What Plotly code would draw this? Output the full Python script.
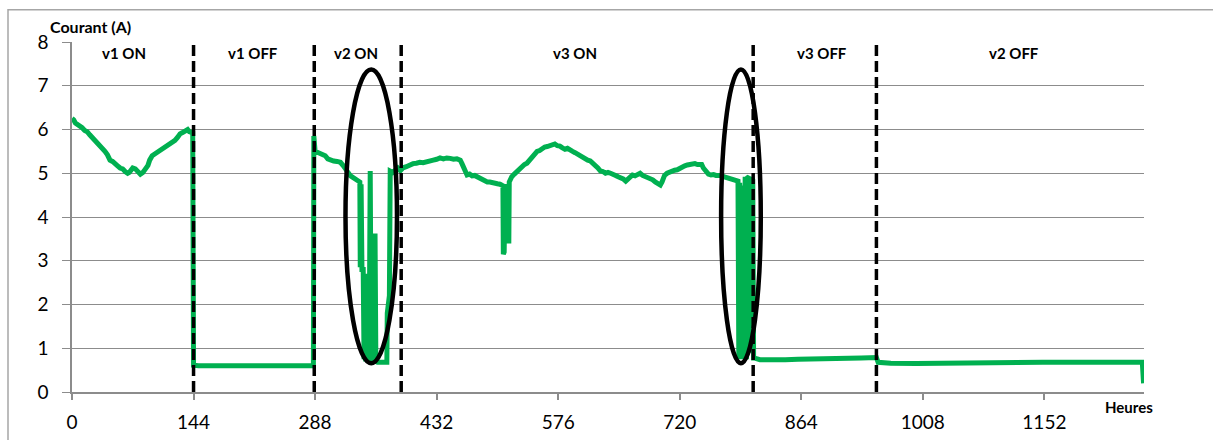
import plotly.graph_objects as go

# ---------------- data (hours, current in A) ----------------
hours_v1_on = [0, 2, 4, 6, 9, 12, 15, 18, 21, 24, 27, 30, 33, 36, 39, 42, 45, 48, 51, 54, 57, 60, 63, 66,
               68, 70, 72, 75, 78, 81, 84, 87, 90, 92, 95, 98, 101, 104, 107, 110, 113, 116, 119, 122,
               125, 128, 131, 134, 137, 139, 141, 143]
current_v1_on = [6.25, 6.22, 6.15, 6.13, 6.08, 6.04, 5.98, 5.95, 5.88, 5.82, 5.76, 5.70, 5.63, 5.60, 5.50,
                 5.42, 5.30, 5.27, 5.20, 5.17, 5.12, 5.10, 5.04, 5.00, 5.02, 5.10, 5.12, 5.10, 5.04, 4.98,
                 5.02, 5.08, 5.18, 5.30, 5.40, 5.44, 5.48, 5.53, 5.55, 5.60, 5.63, 5.68, 5.70, 5.75,
                 5.82, 5.90, 5.93, 5.96, 6.00, 5.95, 5.93, 5.92]

hours_v1_off = [144, 150, 170, 190, 210, 230, 250, 270, 286]
current_v1_off = [0.61, 0.60, 0.60, 0.61, 0.60, 0.60, 0.61, 0.60, 0.60]

hours_v2_on = [286.5, 288, 292, 296, 300, 303, 306, 310, 314, 318, 321, 324, 327, 330, 333, 336, 339, 341,
               341.5, 342.5, 343.5, 345, 346, 347, 348, 349, 350, 351, 352, 353.3, 354.5, 356, 357, 358,
               359, 360, 362, 373, 373.5, 376, 377, 380, 383, 386, 389]
current_v2_on = [5.85, 5.50, 5.47, 5.44, 5.40, 5.33, 5.30, 5.28, 5.27, 5.25, 5.18, 5.12, 5.02, 4.94, 4.90,
                 4.86, 4.82, 4.80, 2.85, 4.75, 2.80, 2.80, 0.75, 2.70, 0.70, 2.60, 0.70, 2.00, 0.70, 5.05,
                 0.70, 3.00, 0.70, 3.62, 3.62, 0.70, 0.68, 0.68, 1.80, 2.20, 5.05, 5.02, 5.08, 5.12, 5.06]

hours_v3_on = [392, 396, 400, 404, 408, 412, 416, 420, 424, 428, 432, 436, 440, 444, 448, 452, 456, 460,
               462, 464, 466, 468, 471, 474, 477, 480, 483, 486, 489, 492, 495, 498, 501, 504, 507, 509,
               510.5, 511, 512, 513, 516, 516.5, 517.5, 518, 519, 521, 524, 527, 530, 533, 536, 539, 542,
               545, 548, 551, 554, 557, 560, 563, 566, 569, 572, 575, 578, 581, 584, 587, 590, 593, 596,
               599, 602, 605, 608, 611, 614, 617, 620, 623, 626, 629, 632, 635, 638, 641, 644, 647, 650,
               653, 656, 658, 661, 664, 667, 670, 673, 676, 679, 682, 685, 688, 691, 694, 697, 699, 702,
               705, 708, 711, 714, 717, 720, 723, 726, 729, 732, 735, 738, 741, 744, 746, 748, 751, 754,
               757, 760, 763, 766, 769, 772, 775, 778, 781, 784, 787, 789,
               790, 791, 792, 793, 794, 795, 796, 797.5, 799, 800.5, 802, 803.5, 805, 806.5, 807.5]
current_v3_on = [5.12, 5.15, 5.20, 5.22, 5.23, 5.25, 5.24, 5.27, 5.28, 5.30, 5.32, 5.35, 5.33, 5.35, 5.34,
                 5.32, 5.33, 5.30, 5.22, 5.12, 5.00, 4.96, 4.98, 4.94, 4.95, 4.92, 4.88, 4.86, 4.83, 4.80,
                 4.80, 4.78, 4.79, 4.76, 4.75, 4.73,
                 4.75, 3.15, 3.20, 4.70, 4.70, 3.45, 3.45, 4.80, 4.85, 4.92, 4.98, 5.04, 5.10, 5.14, 5.20,
                 5.23, 5.30, 5.38, 5.45, 5.50, 5.52, 5.57, 5.60, 5.61, 5.63, 5.65, 5.67, 5.63, 5.62, 5.58,
                 5.55, 5.57, 5.52, 5.50, 5.47, 5.43, 5.41, 5.38, 5.33, 5.30, 5.28, 5.23, 5.20, 5.12, 5.05,
                 5.04, 5.00, 5.02, 5.00, 4.96, 4.95, 4.92, 4.90, 4.87, 4.82, 4.85, 4.93, 4.96, 4.94, 4.98,
                 5.00, 4.95, 4.93, 4.90, 4.89, 4.85, 4.80, 4.76, 4.73, 4.80, 4.95, 5.00, 5.03, 5.05, 5.07,
                 5.08, 5.12, 5.15, 5.17, 5.19, 5.20, 5.23, 5.22, 5.20, 5.19, 5.20, 5.12, 5.05, 4.98, 4.96,
                 4.97, 4.95, 4.96, 4.95, 4.92, 4.90, 4.89, 4.87, 4.85, 4.83, 4.82,
                 0.75, 4.78, 0.75, 4.72, 0.75, 4.70, 0.75, 4.92, 0.75, 4.90, 4.92, 0.90, 4.90, 4.85, 0.78]

hours_v3_off = [808, 815, 830, 845, 860, 875, 890, 905, 920, 935, 950, 953]
current_v3_off = [0.78, 0.74, 0.73, 0.74, 0.75, 0.75, 0.76, 0.76, 0.77, 0.78, 0.79, 0.79]

hours_v2_off = [955, 970, 1000, 1030, 1060, 1090, 1120, 1150, 1180, 1210, 1240, 1268, 1269.5]
current_v2_off = [0.68, 0.66, 0.65, 0.66, 0.66, 0.67, 0.67, 0.68, 0.68, 0.68, 0.69, 0.68, 0.20]

x_ticks = [0, 144, 288, 432, 576, 720, 864, 1008, 1152]
phase_boundaries = [144, 287, 390, 807, 953]
phase_labels = ["v1 ON", "v1 OFF", "v2 ON", "v3 ON", "v3 OFF", "v2 OFF"]
phase_label_x = [62, 215, 337, 596, 888, 1116]
ellipse_centers = [354.5, 792.5]
ellipse_half_widths = [30.5, 23.5]
ellipse_y = [0.66, 7.37]

hours = hours_v1_on + hours_v1_off + hours_v2_on + hours_v3_on + hours_v3_off + hours_v2_off
current = current_v1_on + current_v1_off + current_v2_on + current_v3_on + current_v3_off + current_v2_off

FONT = "Lato, 'Open Sans', sans-serif"
GRID = "#8c8c8c"

fig = go.Figure()
fig.add_trace(go.Scatter(x=hours, y=current, mode="lines",
                         line=dict(color="#00B050", width=5),
                         showlegend=False, hoverinfo="skip"))

shapes = []
for b in phase_boundaries:
    shapes.append(dict(type="line", xref="x", yref="y", x0=b, x1=b, y0=0, y1=8,
                       line=dict(color="black", width=3.5, dash="11px,5px"), layer="above"))
for c, hw in zip(ellipse_centers, ellipse_half_widths):
    shapes.append(dict(type="circle", xref="x", yref="y", x0=c - hw, x1=c + hw,
                       y0=ellipse_y[0], y1=ellipse_y[1],
                       line=dict(color="black", width=4.5), layer="above"))
# outer chart border
shapes.append(dict(type="rect", xref="paper", yref="paper", x0=-0.0597, x1=1.08, y0=-0.2, y1=1.0925,
                   line=dict(color="#a6a6a6", width=1.5), layer="below"))

annotations = []
for lab, lx in zip(phase_labels, phase_label_x):
    annotations.append(dict(x=lx, y=7.76, xref="x", yref="y", text=f"<b>{lab}</b>", showarrow=False,
                            font=dict(family=FONT, size=15, color="black"), xanchor="center", yanchor="middle"))
annotations.append(dict(x=-0.0224, y=1.0438, xref="paper", yref="paper", text="<b>Courant (A)</b>",
                        showarrow=False, font=dict(family=FONT, size=16, color="black"),
                        xanchor="left", yanchor="middle"))
annotations.append(dict(x=0.986, y=-0.043, xref="paper", yref="paper", text="<b>Heures</b>",
                        showarrow=False, font=dict(family=FONT, size=15, color="black"),
                        xanchor="center", yanchor="middle"))

fig.update_layout(
    width=1213, height=440,
    margin=dict(l=72, r=69, t=42, b=48, autoexpand=False),
    paper_bgcolor="white", plot_bgcolor="white",
    shapes=shapes, annotations=annotations,
    font=dict(family=FONT, color="black"),
    xaxis=dict(range=[0, 1270], tickvals=x_ticks, ticktext=[str(t) for t in x_ticks],
               showgrid=False, zeroline=False, showline=True, linecolor=GRID, linewidth=1.5,
               ticks="outside", ticklen=6, tickcolor=GRID, tickwidth=1.5, automargin=False,
               tickfont=dict(family=FONT, size=19, color="black"), ticklabelstandoff=6),
    yaxis=dict(range=[0, 8], dtick=1, showgrid=True, gridcolor=GRID, gridwidth=1.3,
               zeroline=False, showline=True, linecolor=GRID, linewidth=1.5, automargin=False,
               ticks="outside", ticklen=8, tickcolor=GRID, tickwidth=1.3,
               tickfont=dict(family=FONT, size=19, color="black"), ticklabelstandoff=10),
)

fig.write_html("out.html")
